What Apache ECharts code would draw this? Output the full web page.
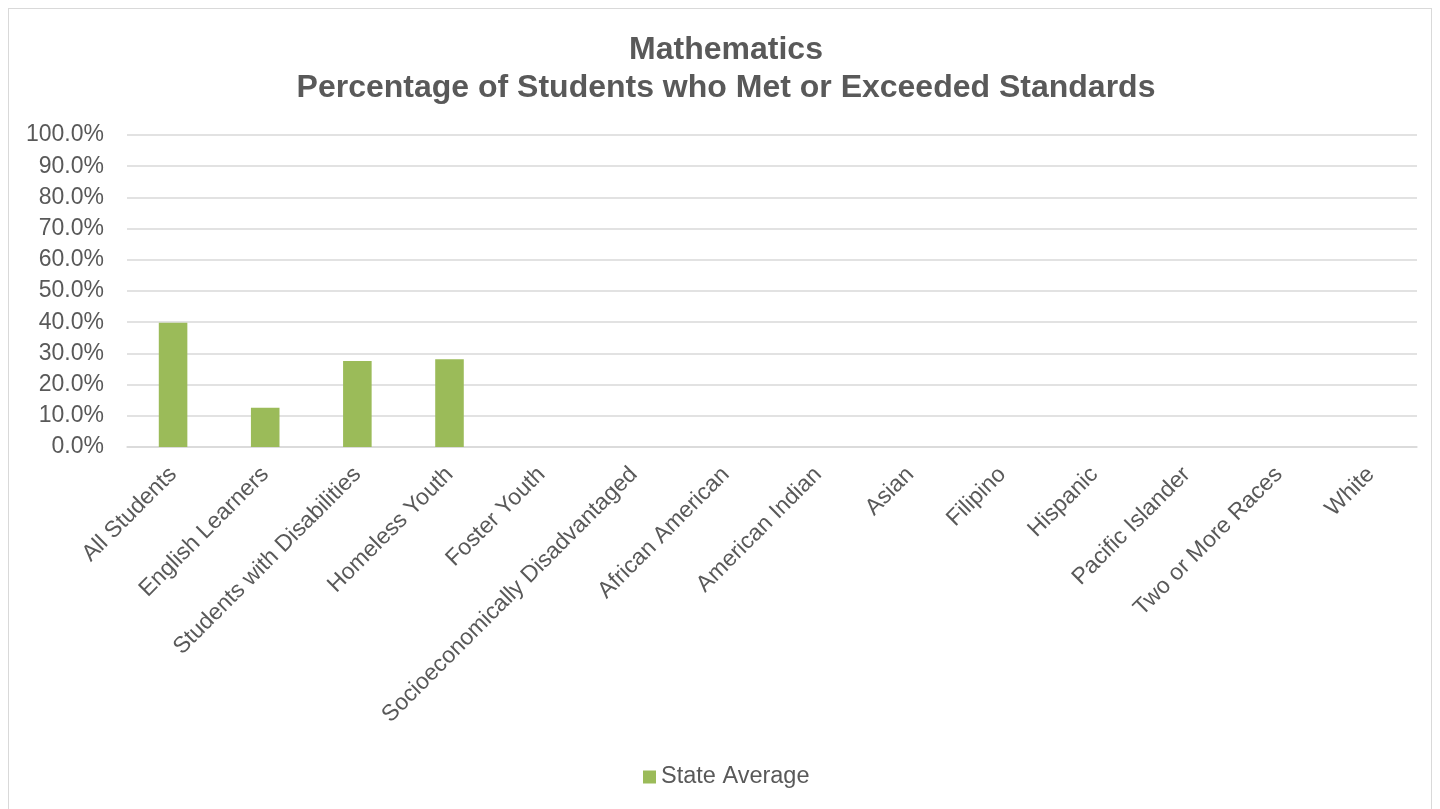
<!DOCTYPE html>
<html><head><meta charset="utf-8">
<script src="https://cdn.jsdelivr.net/npm/echarts@6/dist/echarts.min.js"></script>
<style>
html,body{margin:0;padding:0;background:#fff;}
#frame{position:absolute;left:8px;top:8px;width:1424px;height:820px;border:1px solid #d9d9d9;box-sizing:border-box;}
#c{position:absolute;left:0;top:0;width:1440px;height:809px;}
</style></head>
<body><div id="frame"></div><div id="c"></div>
<script>
const categories = ["All Students","English Learners","Students with Disabilities","Homeless Youth","Foster Youth","Socioeconomically Disadvantaged","African American","American Indian","Asian","Filipino","Hispanic","Pacific Islander","Two or More Races","White"];
const stateAverage = [39.8,12.6,27.6,28.1,null,null,null,null,null,null,null,null,null,null];
const seriesName = "State Average";
const titleText = "Mathematics\nPercentage of Students who Met or Exceeded Standards";
const FONT = "Liberation Sans, Arial, sans-serif";
const chart = echarts.init(document.getElementById('c'));
chart.setOption({
  animation:false,
  title:{text:titleText,left:721,textAlign:'center',top:26,textStyle:{fontFamily:FONT,fontSize:32,fontWeight:'bold',color:'#595959',lineHeight:38}},
  legend:{bottom:15,left:638,itemWidth:13,itemHeight:13,icon:'rect',itemGap:6,textStyle:{fontFamily:FONT,fontSize:23.5,color:'#595959'},data:[seriesName]},
  grid:{left:127,right:23,top:135,bottom:362,containLabel:false},
  xAxis:{type:'category',data:categories,axisTick:{show:false},axisLine:{lineStyle:{color:'#d9d9d9',width:1.5}},
    axisLabel:{rotate:45,interval:0,fontFamily:FONT,fontSize:23,color:'#595959',margin:24}},
  yAxis:{type:'value',min:0,max:100,interval:10,axisLine:{show:false},axisTick:{show:false},
    splitLine:{lineStyle:{color:'#d9d9d9',width:1.5}},
    axisLabel:{formatter:v=>v.toFixed(1)+'%',fontFamily:FONT,fontSize:23,color:'#595959',margin:23}},
  series:[{name:seriesName,type:'bar',data:stateAverage,barWidth:'31%',itemStyle:{color:'#9bbb59'}}]
});
</script></body></html>
